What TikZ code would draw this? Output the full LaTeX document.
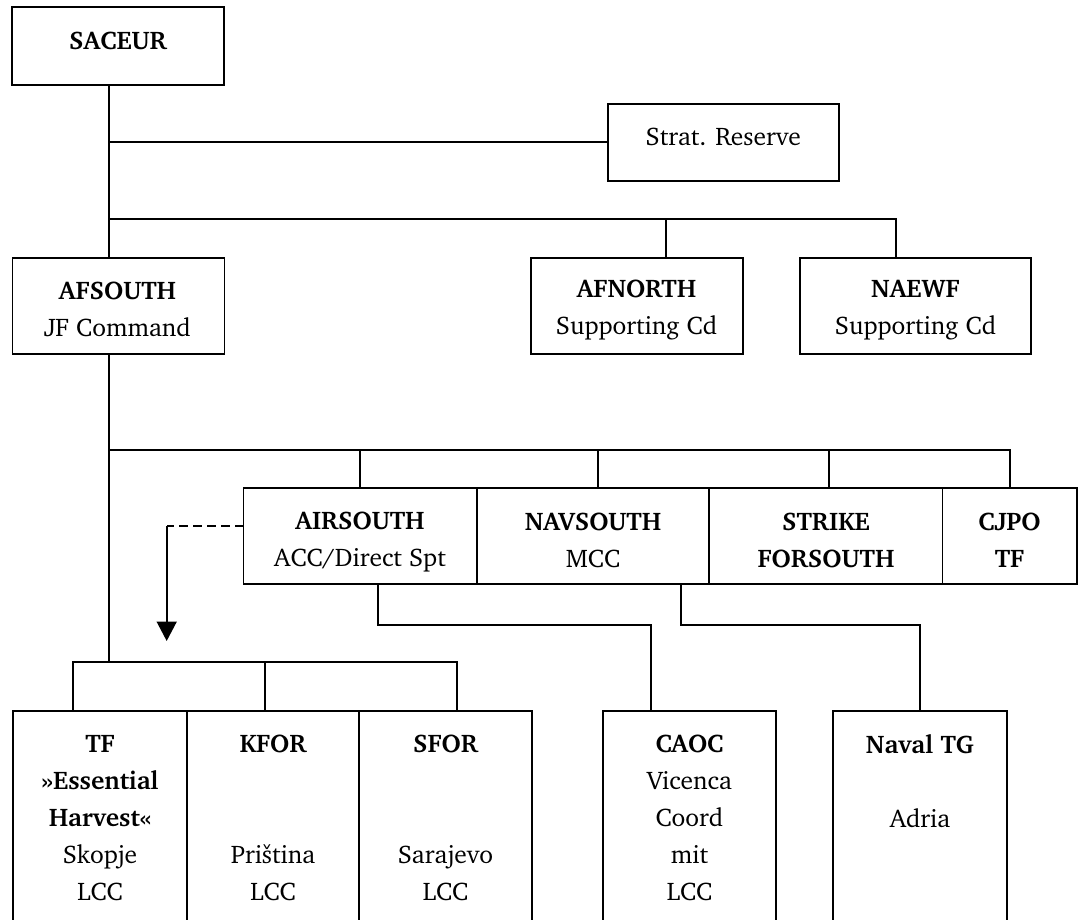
\documentclass[tikz,border=0pt]{standalone}
\usepackage[T1]{fontenc}
\usepackage{charter}
\usetikzlibrary{arrows.meta}
\tikzset{
  box/.style={draw, line width=1.8pt, inner sep=0pt, outer sep=0pt},
  lbl/.style={align=center, inner sep=0pt, outer sep=0pt, font=\fontsize{25.5}{37}\selectfont},
  conn/.style={line width=1.8pt},
  dashconn/.style={line width=1.8pt, dash pattern=on 9pt off 5pt},
}
\begin{document}
\begin{tikzpicture}[x=1pt,y=-1pt]
\useasboundingbox (0,0) rectangle (1080,920);
\clip (0,0) rectangle (1080,920);
% boxes
\node[box, minimum width=212, minimum height=78] (saceur) at (118,46) {};
\node[box, minimum width=231.3, minimum height=76.7] (strat) at (723.3,142.3) {};
\node[box, minimum width=212, minimum height=96] (afsouth) at (118.5,306) {};
\node[box, minimum width=212, minimum height=96] (afnorth) at (637,306) {};
\node[box, minimum width=231, minimum height=96] (naewf) at (915.5,306) {};
\node[box, minimum width=233.5, minimum height=96] (airsouth) at (360.25,536) {};
\node[box, minimum width=232, minimum height=96] (navsouth) at (593,536) {};
\node[box, minimum width=233.5, minimum height=96] (strike) at (825.75,536) {};
\node[box, minimum width=134.5, minimum height=96] (cjpo) at (1009.75,536) {};
\node[box, minimum width=174.3, minimum height=240] (tf) at (99.85,830.7) {};
\node[box, minimum width=172, minimum height=240] (kfor) at (273,830.7) {};
\node[box, minimum width=173, minimum height=240] (sfor) at (445.5,830.7) {};
\node[box, minimum width=173, minimum height=240] (caoc) at (689.5,830.7) {};
\node[box, minimum width=174, minimum height=240] (navaltg) at (920,830.7) {};
% labels
\node[lbl] (tsaceur) at (118,41) {\textbf{SACEUR}};
\node[lbl] (tstrat) at (723.3,137.3) {Strat. Reserve};
\node[lbl] (tafsouth) at (117.5,309.5) {\textbf{AFSOUTH}\\JF Command};
\node[lbl] (tafnorth) at (636.5,309.5) {\textbf{AFNORTH}\\Supporting Cd};
\node[lbl] (tnaewf) at (915.5,309.5) {\textbf{NAEWF}\\Supporting Cd};
\node[lbl] (tairsouth) at (360,542) {\textbf{AIRSOUTH}\\ACC/Direct Spt};
\node[lbl] (tnavsouth) at (593,540) {\textbf{NAVSOUTH}\\MCC};
\node[lbl] (tstrike) at (826,540) {\textbf{STRIKE}\\\textbf{FORSOUTH}};
\node[lbl] (tcjpo) at (1009.5,540) {\textbf{CJPO}\\\textbf{TF}};
\node[lbl] (ttf) at (100,818) {\textbf{TF}\\\textbf{\guillemotright Essential}\\\textbf{Harvest\guillemotleft}\\Skopje\\LCC};
\node[lbl] (tkfor) at (273,818) {\textbf{KFOR}\\[74pt]Pri\v{s}tina\\LCC};
\node[lbl] (tsfor) at (445.5,818) {\textbf{SFOR}\\[74pt]Sarajevo\\LCC};
\node[lbl] (tcaoc) at (689.5,818) {\textbf{CAOC}\\Vicenca\\Coord\\mit\\LCC};
\node[lbl] (tnavaltg) at (920,781) {\textbf{Naval TG}\\[37pt]Adria};
% helper coordinates
\coordinate (tx) at (108.7,0);
\coordinate (j1) at (108.7,142.3);
\coordinate (j2) at (108.7,219);
\coordinate (xan) at (665.7,0);
\coordinate (xne) at (896,0);
\coordinate (j3) at (108.7,450);
\coordinate (xnav) at (598,0);
\coordinate (xstr) at (829,0);
\coordinate (j4) at (108.7,662);
\coordinate (b1) at (72.7,662);
\coordinate (b2) at (265,662);
\coordinate (b3) at (457,662);
\coordinate (ac) at (166.7,526);
\coordinate (at) at (166.7,641);
\coordinate (ab) at (377.7,625);
\coordinate (xcaoc) at (651.3,0);
\coordinate (nb) at (681,625);
% connectors
\draw[conn] (saceur.south -| tx) -- (afsouth.north -| tx);
\draw[conn] (j1) -- (j1 -| strat.west);
\draw[conn] (j2) -| (naewf.north -| xne);
\draw[conn] (j2 -| xan) -- (afnorth.north -| xan);
\draw[conn] (afsouth.south -| tx) -- (j4);
\draw[conn] (j3) -| (cjpo.north);
\draw[conn] (j3 -| airsouth.north) -- (airsouth.north);
\draw[conn] (j3 -| xnav) -- (navsouth.north -| xnav);
\draw[conn] (j3 -| xstr) -- (strike.north -| xstr);
\draw[conn] (tf.north -| b1) -- (b1) -- (b3) -- (sfor.north -| b3);
\draw[conn] (b2) -- (kfor.north -| b2);
\draw[dashconn] (airsouth.west |- ac) -- (ac);
\draw[conn, -{Triangle[length=19.5pt,width=20pt]}] (ac) -- (at);
\draw[conn] (airsouth.south -| ab) -- (ab) -| (caoc.north -| xcaoc);
\draw[conn] (navsouth.south -| nb) -- (nb) -| (navaltg.north);
\end{tikzpicture}
\end{document}
